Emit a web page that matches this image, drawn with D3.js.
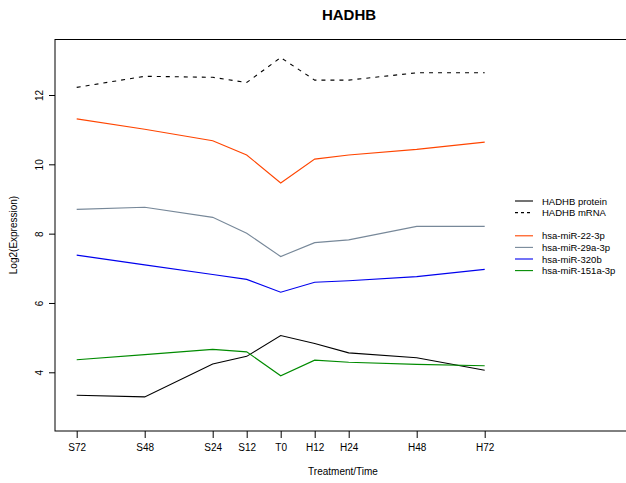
<!DOCTYPE html>
<html lang="en">
  <head>
    <meta charset="utf-8">
    <title>HADHB</title>
    <script src="https://d3js.org/d3.v7.min.js"></script>
    <style type="text/css">
      body { margin: 0; background: #ffffff; }
      text { font-family: "Liberation Sans", Arial, sans-serif; fill: #000; }
    </style>
  </head>
  <body>
    <script type="text/javascript">

    // time points (hours, S = before, H = after) and their labels
    const timeLabels = ["S72", "S48", "S24", "S12", "T0", "H12", "H24", "H48", "H72"];
    const timeHours = [-72, -48, -24, -12, 0, 12, 24, 48, 72];

    // log2 expression
    const proteinValues = [3.34, 3.29, 4.24, 4.46, 5.06, 4.83, 4.56, 4.42, 4.06];
    const mrnaValues = [12.22, 12.54, 12.51, 12.36, 13.08, 12.43, 12.43, 12.64, 12.64];
    const mir22Values = [11.31, 11.01, 10.68, 10.27, 9.46, 10.15, 10.27, 10.43, 10.64];
    const mir29aValues = [8.70, 8.76, 8.47, 8.01, 7.34, 7.74, 7.82, 8.21, 8.21];
    const mir320bValues = [7.38, 7.10, 6.82, 6.68, 6.31, 6.60, 6.64, 6.76, 6.97];
    const mir151aValues = [4.36, 4.51, 4.66, 4.59, 3.90, 4.35, 4.29, 4.23, 4.19];

    const yTicks = [4, 6, 8, 10, 12];

    const series = [
      {name: "HADHB protein", values: proteinValues, color: "#000000", dash: null},
      {name: "HADHB mRNA", values: mrnaValues, color: "#000000", dash: "4,5"},
      {name: "hsa-miR-22-3p", values: mir22Values, color: "#ff4500", dash: null},
      {name: "hsa-miR-29a-3p", values: mir29aValues, color: "#778899", dash: null},
      {name: "hsa-miR-320b", values: mir320bValues, color: "#0000ee", dash: null},
      {name: "hsa-miR-151a-3p", values: mir151aValues, color: "#008b00", dash: null}
    ];

    const width = 626;
    const height = 483;
    const svg = d3.select("body")
                  .append("svg")
                  .attr("width", width)
                  .attr("height", height);

    // plot box (runs off the right side like the original)
    const box = {left: 55, top: 39.5, right: 642, bottom: 431};

    const x = d3.scaleLinear().domain([-72, 72]).range([76.7, 484.7]);
    const y = d3.scaleLinear().domain([4, 12]).range([372.3, 95]);

    svg.append("rect")
       .attr("x", box.left).attr("y", box.top)
       .attr("width", box.right - box.left).attr("height", box.bottom - box.top)
       .attr("fill", "none").attr("stroke", "#000").attr("stroke-width", 1);

    // x axis
    const xAxis = d3.axisBottom(x)
                    .tickValues(timeHours)
                    .tickFormat((d, i) => timeLabels[i])
                    .tickSizeInner(7).tickSizeOuter(0).tickPadding(6);
    const gx = svg.append("g").attr("transform", `translate(0,${box.bottom})`).call(xAxis);
    gx.select(".domain").remove();
    gx.selectAll("text").attr("font-size", 10).attr("font-family", "Liberation Sans, Arial, sans-serif");

    // y axis, labels rotated like R
    const yAxis = d3.axisLeft(y).tickValues(yTicks).tickSizeInner(6).tickSizeOuter(0).tickFormat(d3.format("d"));
    const gy = svg.append("g").attr("transform", `translate(${box.left},0)`).call(yAxis);
    gy.select(".domain").remove();
    gy.selectAll("text")
      .attr("font-size", 10).attr("font-family", "Liberation Sans, Arial, sans-serif")
      .attr("x", null).attr("dy", null)
      .attr("text-anchor", "middle")
      .attr("transform", "translate(-12,0) rotate(-90)");

    // lines
    const line = d3.line()
                   .x((d, i) => x(timeHours[i]))
                   .y(d => y(d));

    svg.selectAll("path.series")
       .data(series)
       .join("path")
       .attr("class", "series")
       .attr("d", d => line(d.values))
       .attr("fill", "none")
       .attr("stroke", d => d.color)
       .attr("stroke-width", 1.1)
       .attr("stroke-dasharray", d => d.dash);

    // titles
    svg.append("text")
       .attr("x", 349).attr("y", 20)
       .attr("text-anchor", "middle")
       .attr("font-size", 15).attr("font-weight", "bold")
       .text("HADHB");

    svg.append("text")
       .attr("x", 343).attr("y", 475)
       .attr("text-anchor", "middle")
       .attr("font-size", 10)
       .text("Treatment/Time");

    svg.append("text")
       .attr("transform", "translate(17,235) rotate(-90)")
       .attr("text-anchor", "middle")
       .attr("font-size", 10)
       .text("Log2(Expression)");

    // legend (blank row between the HADHB entries and the miRNAs)
    const legendRows = [0, 1, 3, 4, 5, 6];
    const legend = svg.append("g");
    series.forEach((s, i) => {
      const ly = 201 + legendRows[i] * 11.6;
      legend.append("line")
            .attr("x1", 515).attr("x2", 533)
            .attr("y1", ly).attr("y2", ly)
            .attr("stroke", s.color)
            .attr("stroke-width", 1.1)
            .attr("stroke-dasharray", s.dash ? "3,3" : null);
      legend.append("text")
            .attr("x", 542).attr("y", ly + 3.5)
            .attr("font-size", 9.5)
            .text(s.name);
    });

    </script>
  </body>
</html>
